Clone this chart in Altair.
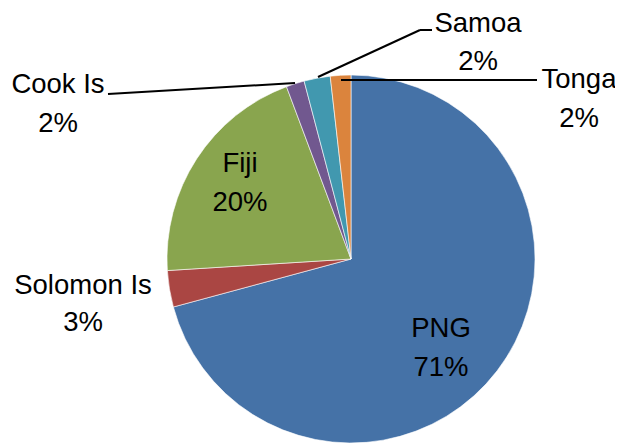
import altair as alt
import pandas as pd

# --- data ---
countries = ["PNG", "Solomon Is", "Fiji", "Cook Is", "Samoa", "Tonga"]
shares = [70.8, 3.2, 20.3, 1.6, 2.3, 1.8]
colors = ["#4572A7", "#AA4643", "#89A54E", "#71588F", "#4198AF", "#DB843D"]

# --- label layout (page pixels, separate from data) ---
label_x = [441, 83, 240, 58, 478, 579]
name_y = [328, 285, 163, 84, 23, 79]
pct_y = [367, 322, 202, 123, 61, 118]

# leader lines (page pixels): x, y, x2, y2
leaders = [
    (108, 94, 295, 83),
    (318, 77, 420, 30),
    (420, 30, 432, 30),
    (341, 80, 537, 80),
]

M = 8  # page margin
W, H = 607, 436
CX, CY, R = 351 - M, 259 - M, 184

total = sum(shares)
df = pd.DataFrame({
    "country": countries,
    "share": shares,
    "order": list(range(len(countries))),
})
lab = pd.DataFrame({
    "country": countries,
    "pct": [f"{round(s / total * 100)}%" for s in shares],
    "lx": [x - M for x in label_x],
    "ny": [y - M + 1 for y in name_y],
    "py": [y - M + 1 for y in pct_y],
})
seg = pd.DataFrame(
    [(a - M, b - M, c - M, d - M) for a, b, c, d in leaders],
    columns=["x", "y", "x2", "y2"],
)

pie = alt.Chart(df).mark_arc(radius=R, stroke="#ffffff", strokeWidth=0.6).encode(
    theta=alt.Theta("share:Q", stack=True),
    order=alt.Order("order:Q"),
    color=alt.Color("country:N", scale=alt.Scale(domain=countries, range=colors), legend=None),
    x=alt.value(CX),
    y=alt.value(CY),
)

lines = alt.Chart(seg).mark_rule(color="#000000", strokeWidth=2).encode(
    x=alt.X("x:Q", scale=None),
    y=alt.Y("y:Q", scale=None),
    x2="x2:Q",
    y2="y2:Q",
)

FONT = "Liberation Sans"
FS = 27.5
names = alt.Chart(lab).mark_text(font=FONT, fontSize=FS, color="#000000", align="center", baseline="middle").encode(
    x=alt.X("lx:Q", scale=None),
    y=alt.Y("ny:Q", scale=None),
    text="country:N",
)
pcts = alt.Chart(lab).mark_text(font=FONT, fontSize=FS, color="#000000", align="center", baseline="middle").encode(
    x=alt.X("lx:Q", scale=None),
    y=alt.Y("py:Q", scale=None),
    text="pct:N",
)

chart = alt.layer(pie, lines, names, pcts).properties(
    width=W, height=H,
    autosize=alt.AutoSizeParams(type="none"),
    padding=0,
    background="#ffffff",
).configure_view(strokeWidth=0, stroke="transparent")

chart.save("out.html", embed_options={"renderer": "svg", "actions": False})
